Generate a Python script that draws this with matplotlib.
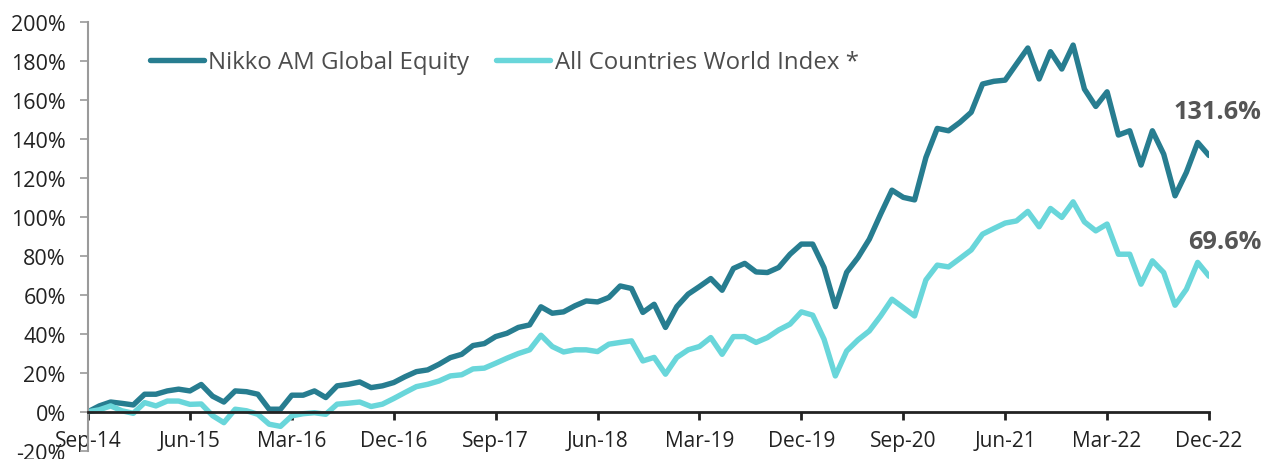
import matplotlib
matplotlib.use("Agg")
import matplotlib.pyplot as plt
import numpy as np

# ---- data (cumulative return, %) monthly Sep-14 .. Dec-22 ----
nikko = [0.0, 3.0, 5.0, 4.3, 3.5, 9.0, 9.0, 10.7, 11.6, 10.7,
         14.0, 8.0, 5.0, 10.7, 10.3, 9.0, 1.3, 1.3, 8.5, 8.5,
         10.7, 7.3, 13.3, 14.1, 15.3, 12.4, 13.3, 15.0, 18.0, 20.6,
         21.5, 24.4, 27.8, 29.5, 34.0, 35.0, 38.6, 40.3, 43.3, 44.6,
         53.9, 50.6, 51.3, 54.4, 56.9, 56.4, 58.7, 64.6, 63.3, 51.0,
         55.2, 43.3, 54.0, 60.4, 64.3, 68.4, 62.4, 73.6, 76.2, 71.8,
         71.5, 74.1, 80.9, 86.1, 86.1, 74.1, 54.0, 71.6, 79.2, 88.6,
         101.5, 113.8, 110.1, 108.8, 130.6, 145.5, 144.3, 148.6, 153.8, 168.3,
         169.7, 170.3, 178.6, 186.8, 170.9, 184.9, 176.0, 188.3, 165.7, 156.8,
         164.3, 142.1, 144.3, 126.7, 144.3, 132.3, 110.9, 122.9, 138.3, 131.6]
acwi = [0.0, 1.0, 3.0, 0.5, -0.8, 4.7, 3.0, 5.5, 5.5, 3.8,
        4.0, -2.0, -5.6, 1.3, 0.5, -1.3, -6.4, -7.5, -2.1, -1.0,
        -0.5, -1.3, 3.9, 4.4, 5.0, 2.7, 3.9, 6.8, 9.9, 12.9,
        14.1, 15.8, 18.4, 19.0, 22.0, 22.4, 24.9, 27.5, 29.9, 31.8,
        39.3, 33.5, 30.7, 31.8, 31.8, 30.9, 34.7, 35.6, 36.4, 26.1,
        27.9, 19.3, 27.9, 31.8, 33.5, 38.1, 29.5, 38.6, 38.6, 35.6,
        38.1, 42.0, 45.0, 51.3, 49.6, 37.3, 18.4, 31.2, 36.9, 41.5,
        49.2, 57.8, 53.5, 49.2, 67.7, 75.3, 74.4, 78.7, 83.1, 91.2,
        94.1, 96.9, 98.0, 102.9, 95.0, 104.4, 99.8, 107.8, 97.5, 92.9,
        96.4, 80.9, 80.9, 65.5, 77.5, 71.5, 54.7, 62.9, 76.7, 69.6]
tick_labels = ["Sep-14", "Jun-15", "Mar-16", "Dec-16", "Sep-17", "Jun-18",
               "Mar-19", "Dec-19", "Sep-20", "Jun-21", "Mar-22", "Dec-22"]
series_names = ["Nikko AM Global Equity", "All Countries World Index *"]
end_labels = ["131.6%", "69.6%"]

DARK = "#277d90"
LIGHT = "#69d6da"
FONT = "Open Sans"
plt.rcParams["font.family"] = [FONT, "DejaVu Sans"]

fig = plt.figure(figsize=(12.66, 4.60), dpi=100)
ax = fig.add_axes([88 / 1266, 1 - 451.7 / 460, (1209 - 88) / 1266, (451.7 - 23.3) / 460])

for s in ["top", "right"]:
    ax.spines[s].set_visible(False)
ax.spines["bottom"].set_position(("data", 0))
ax.spines["bottom"].set_color("#222222")
ax.spines["bottom"].set_linewidth(2.0)
ax.spines["left"].set_color("#9a9a9a")
ax.spines["left"].set_linewidth(1.5)

x = np.arange(len(nikko))
l1, = ax.plot(x, nikko, color=DARK, lw=3.9, solid_joinstyle="round", solid_capstyle="round")
l2, = ax.plot(x, acwi, color=LIGHT, lw=3.9, solid_joinstyle="round", solid_capstyle="round")

ax.set_xlim(0, len(nikko) - 1)
ax.set_ylim(-20, 200)
ax.set_yticks(np.arange(-20, 201, 20))
ax.set_yticklabels([f"{v}%" for v in range(-20, 201, 20)])
ax.set_xticks(np.arange(0, len(nikko), 9))
ax.set_xticklabels(tick_labels)
ax.tick_params(axis="x", direction="out", length=6, width=2, color="#222222", pad=7,
               labelsize=15, labelcolor="#222222")
ax.tick_params(axis="y", direction="out", length=6, width=1.2, color="#9a9a9a", pad=10,
               labelsize=15.5, labelcolor="#222222")

# end labels
offsets = [(38, 31.6), (38, 24.8)]
for lab, series, off in zip(end_labels, [nikko, acwi], offsets):
    ax.annotate(lab, xy=(1, series[-1]), xycoords=("axes fraction", "data"),
                xytext=off, textcoords="offset points", ha="right", va="center",
                fontsize=18.2, fontweight="bold", color="#555555",
                annotation_clip=False)

leg = fig.legend([l1, l2], series_names, loc="center left",
                 bbox_to_anchor=(128 / 1266, 1 - 63 / 460), ncol=2, frameon=False,
                 handlelength=2.25, handletextpad=0.2, columnspacing=1.1,
                 prop={"family": FONT, "size": 17.3})
for t in leg.get_texts():
    t.set_color("#4d4d4d")

fig.savefig("out.png", dpi=100)
